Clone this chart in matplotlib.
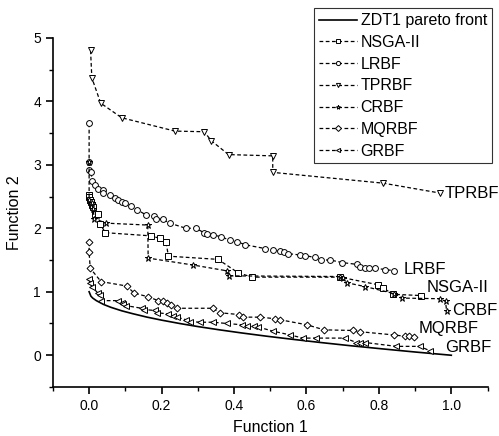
import matplotlib
matplotlib.use("Agg")
import matplotlib.pyplot as plt
from matplotlib.ticker import MultipleLocator

plt.rcParams['font.family'] = ['Liberation Sans', 'DejaVu Sans']

# ZDT1 pareto front
pf_x = [0, 0.005, 0.01, 0.02, 0.04, 0.06, 0.09, 0.12, 0.16, 0.2, 0.25, 0.3, 0.36,
        0.42, 0.49, 0.56, 0.64, 0.72, 0.81, 0.9, 1.0]
pf_y = [1.0, 0.93, 0.9, 0.86, 0.8, 0.755, 0.7, 0.655, 0.6, 0.553, 0.5, 0.452, 0.4,
        0.352, 0.3, 0.252, 0.2, 0.151, 0.1, 0.051, 0.0]

nsga_x = [0, 0, 0.002, 0.006, 0.009, 0.012, 0.016, 0.025, 0.030, 0.045, 0.171, 0.196,
          0.212, 0.219, 0.356, 0.411, 0.450, 0.693, 0.798, 0.812, 0.839, 0.917]
nsga_y = [2.53, 2.49, 2.45, 2.41, 2.37, 2.33, 2.23, 2.22, 2.07, 1.93, 1.88, 1.84,
          1.79, 1.56, 1.51, 1.30, 1.23, 1.23, 1.11, 1.06, 0.96, 0.94]

lrbf_x = [0, 0, 0, 0.005, 0.009, 0.016, 0.025, 0.039, 0.039, 0.057, 0.071, 0.080, 0.090,
          0.099, 0.117, 0.133, 0.157, 0.179, 0.185, 0.203, 0.223, 0.267, 0.295, 0.317,
          0.326, 0.343, 0.363, 0.389, 0.408, 0.431, 0.486, 0.507, 0.526, 0.539, 0.550,
          0.581, 0.595, 0.624, 0.641, 0.666, 0.698, 0.741, 0.749, 0.763, 0.772, 0.788,
          0.818, 0.843]
lrbf_y = [3.65, 3.04, 2.92, 2.88, 2.74, 2.68, 2.62, 2.60, 2.555, 2.53, 2.47, 2.44, 2.42,
          2.39, 2.35, 2.29, 2.21, 2.19, 2.15, 2.14, 2.08, 2.00, 2.00, 1.93,
          1.91, 1.89, 1.87, 1.81, 1.79, 1.74, 1.68, 1.65, 1.64, 1.62, 1.60,
          1.58, 1.57, 1.54, 1.50, 1.50, 1.46, 1.43, 1.39, 1.38, 1.38, 1.37,
          1.35, 1.33]

tp_x = [0.004, 0.0075, 0.032, 0.09, 0.237, 0.318, 0.337, 0.385, 0.507, 0.507, 0.812, 0.968]
tp_y = [4.80, 4.37, 3.97, 3.74, 3.53, 3.52, 3.38, 3.16, 3.14, 2.88, 2.71, 2.555]

cr_x = [0, 0, 0.007, 0.011, 0.014, 0.048, 0.162, 0.163, 0.288, 0.380, 0.385, 0.693,
        0.701, 0.713, 0.763, 0.843, 0.864, 0.970, 0.984, 0.987]
cr_y = [3.04, 2.44, 2.39, 2.31, 2.15, 2.08, 2.05, 1.53, 1.42, 1.33, 1.25, 1.24,
        1.21, 1.14, 1.08, 0.97, 0.90, 0.89, 0.85, 0.70]

mq_x = [0, 0, 0.003, 0.033, 0.104, 0.124, 0.163, 0.191, 0.203, 0.214, 0.225, 0.243,
        0.341, 0.360, 0.415, 0.424, 0.472, 0.514, 0.526, 0.601, 0.649, 0.729, 0.749,
        0.841, 0.871, 0.882, 0.896]
mq_y = [1.79, 1.62, 1.37, 1.16, 1.09, 0.98, 0.92, 0.86, 0.86, 0.83, 0.79, 0.74,
        0.74, 0.67, 0.64, 0.60, 0.60, 0.575, 0.56, 0.48, 0.40, 0.39, 0.37,
        0.32, 0.30, 0.30, 0.29]

gr_x = [0, 0.002, 0.008, 0.024, 0.031, 0.034, 0.080, 0.090, 0.094, 0.103, 0.145, 0.151,
        0.182, 0.188, 0.219, 0.232, 0.242, 0.267, 0.279, 0.306, 0.343, 0.380, 0.422,
        0.435, 0.454, 0.467, 0.507, 0.555, 0.590, 0.627, 0.707, 0.738, 0.749, 0.763,
        0.848, 0.913, 0.941]
gr_y = [1.20, 1.13, 1.08, 0.98, 0.95, 0.86, 0.86, 0.83, 0.81, 0.78, 0.74, 0.72,
        0.705, 0.67, 0.65, 0.62, 0.60, 0.56, 0.53, 0.52, 0.52, 0.50, 0.48,
        0.455, 0.455, 0.445, 0.38, 0.32, 0.27, 0.27, 0.27, 0.20, 0.20, 0.20,
        0.14, 0.14, 0.07]

labels = ["ZDT1 pareto front", "NSGA-II", "LRBF", "TPRBF", "CRBF", "MQRBF", "GRBF"]
end_labels = ["NSGA-II", "LRBF", "TPRBF", "CRBF", "MQRBF", "GRBF"]
end_label_x = [0.933, 0.867, 0.982, 1.0025, 0.909, 0.984]
end_label_y = [1.06, 1.355, 2.555, 0.705, 0.42, 0.115]

fig = plt.figure(figsize=(4.99, 4.36), dpi=100)
ax = fig.add_axes([0.106, 0.1124, 0.871, 0.801])

ax.plot(pf_x, pf_y, color='black', lw=1.2, label=labels[0])
series = [(nsga_x, nsga_y, 's'), (lrbf_x, lrbf_y, 'o'), (tp_x, tp_y, 'v'),
          (cr_x, cr_y, '*'), (mq_x, mq_y, 'D'), (gr_x, gr_y, '<')]
for (xs, ys, m), lab in zip(series, labels[1:]):
    ms = 4.2 if m != 'D' else 3.5
    if m == '*':
        ms = 4.8
    ax.plot(xs, ys, color='black', lw=0.9, linestyle=(0, (3, 2)), marker=m,
            markersize=ms, markerfacecolor='white', markeredgecolor='black',
            markeredgewidth=0.7, label=lab)

for t, x, y in zip(end_labels, end_label_x, end_label_y):
    ax.text(x, y, t, fontsize=12, va='center', ha='left')

ax.set_xlim(-0.1, 1.1)
ax.set_ylim(-0.5, 5)
ax.xaxis.set_major_locator(MultipleLocator(0.2))
ax.xaxis.set_minor_locator(MultipleLocator(0.1))
ax.yaxis.set_major_locator(MultipleLocator(1))
ax.yaxis.set_minor_locator(MultipleLocator(0.5))
ax.set_xticks([0.0, 0.2, 0.4, 0.6, 0.8, 1.0])
ax.set_xticklabels(["0.0", "0.2", "0.4", "0.6", "0.8", "1.0"])
ax.spines['top'].set_visible(False)
ax.spines['right'].set_visible(False)
for s in ['left', 'bottom']:
    ax.spines[s].set_linewidth(1.2)
ax.tick_params(which='major', direction='out', length=5, width=1.2, labelsize=10)
ax.tick_params(which='minor', direction='out', length=3, width=1.0)
ax.set_xlabel("Function 1", fontsize=11.5, labelpad=5)
ax.set_ylabel("Function 2", fontsize=11.5, labelpad=8)

leg = ax.legend(loc='upper right', bbox_to_anchor=(491.7 / 499, 1 - 8.5 / 436),
                bbox_transform=fig.transFigure, fontsize=11.5, frameon=True,
                fancybox=False, edgecolor='black', handlelength=2.4,
                handletextpad=0.2, labelspacing=0.42, borderpad=0.3,
                borderaxespad=0)
leg.get_frame().set_linewidth(0.8)
for h in leg.get_lines():
    h.set_markersize(3)

fig.savefig("out.png", dpi=100)
